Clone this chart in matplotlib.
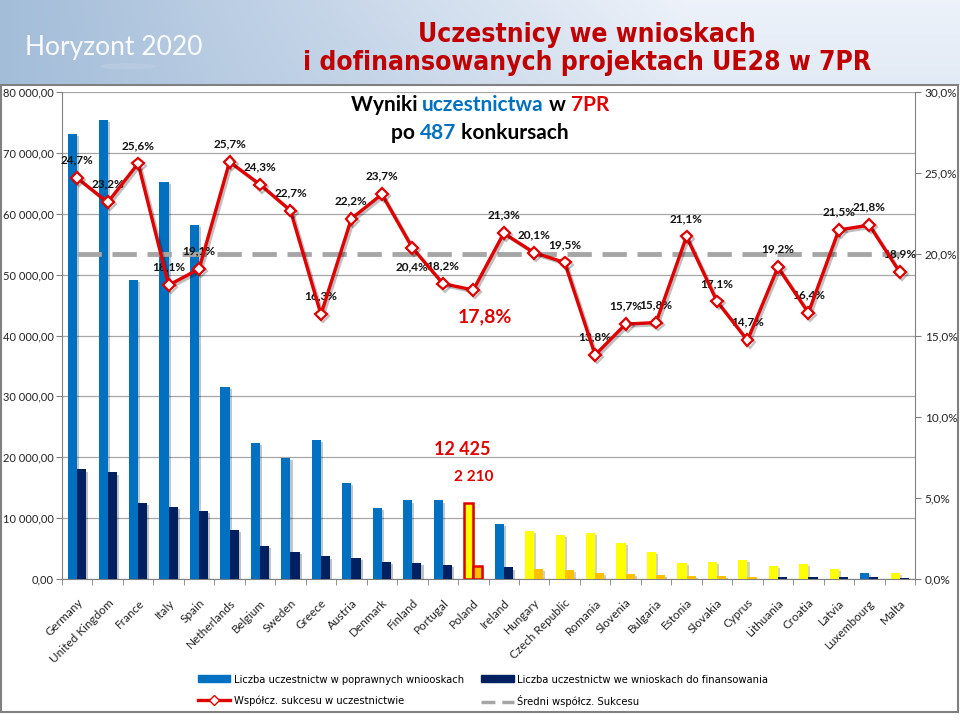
import numpy as np
import matplotlib
matplotlib.use("Agg")
import matplotlib.pyplot as plt
from matplotlib import font_manager
from matplotlib.lines import Line2D
from matplotlib.patches import Patch, Rectangle, Circle
import matplotlib.patheffects as pe

# ---------- data ----------
countries = ["Germany", "United Kingdom", "France", "Italy", "Spain", "Netherlands",
             "Belgium", "Sweden", "Greece", "Austria", "Denmark", "Finland",
             "Portugal", "Poland", "Ireland", "Hungary", "Czech Republic", "Romania",
             "Slovenia", "Bulgaria", "Estonia", "Slovakia", "Cyprus", "Lithuania",
             "Croatia", "Latvia", "Luxembourg", "Malta"]
applied = [73100, 75400, 49100, 65200, 58200, 31600, 22400, 19900, 22800, 15800,
           11600, 12900, 12900, 12425, 9100, 7900, 7200, 7600, 5900, 4400,
           2600, 2850, 3100, 2100, 2450, 1600, 1050, 1000]
funded = [18000, 17500, 12500, 11900, 11200, 8000, 5500, 4500, 3700, 3500,
          2750, 2600, 2300, 2210, 1900, 1600, 1450, 1050, 850, 650,
          550, 500, 400, 400, 380, 300, 250, 200]
success = [24.7, 23.2, 25.6, 18.1, 19.1, 25.7, 24.3, 22.7, 16.3, 22.2,
           23.7, 20.4, 18.2, 17.8, 21.3, 20.1, 19.5, 13.8, 15.7, 15.8,
           21.1, 17.1, 14.7, 19.2, 16.4, 21.5, 21.8, 18.9]
avg_success = 20.0

new_members = ["Hungary", "Czech Republic", "Romania", "Slovenia", "Bulgaria", "Estonia",
               "Slovakia", "Cyprus", "Lithuania", "Croatia", "Latvia", "Malta"]
orange_funded = ["Hungary", "Czech Republic", "Romania", "Slovenia", "Bulgaria",
                 "Estonia", "Slovakia", "Cyprus"]
label_below = ["Finland"]

# ---------- fonts ----------
fonts = font_manager.fontManager.ttflist
names = {f.name for f in fonts}


def find_narrow(bold):
    for f in fonts:
        fn = f.fname.lower()
        if ("narrow" in fn or "condensed" in fn) and ("bold" in fn) == bold \
                and "italic" not in fn and "oblique" not in fn:
            return font_manager.FontProperties(fname=f.fname)
    return None


BODY = "Lato" if "Lato" in names else "DejaVu Sans"
NARROW_FB = "Roboto" if "Roboto" in names else BODY
narrow_b = find_narrow(True)
narrow_r = find_narrow(False)
if narrow_b is None:
    narrow_b = font_manager.FontProperties(family=NARROW_FB, weight="bold")
if narrow_r is None:
    narrow_r = font_manager.FontProperties(family=NARROW_FB)

BLUE = "#0070c0"
NAVY = "#002060"
YELLOW = "#ffff00"
ORANGE = "#ffc000"
RED = "#e00000"

fig = plt.figure(figsize=(9.6, 7.2), dpi=100)

# ---------- header band ----------
hdr = fig.add_axes([0, 1 - 85 / 720, 1, 85 / 720])
gx = np.linspace(0, 1, 300)
gy = np.linspace(0, 1, 40)[:, None]
c0 = np.array([0.64, 0.74, 0.85])
c1 = np.array([0.93, 0.95, 0.98])
t = np.clip(gx * 1.4, 0, 1)[None, :, None] * (0.85 + 0.15 * gy[:, :, None])
img = c0 + (c1 - c0) * t
hdr.imshow(img, aspect="auto", extent=[0, 1, 0, 1], origin="lower")
hdr.set_xlim(0, 1)
hdr.set_ylim(0, 1)
hdr.add_patch(Circle((128 / 960, 0.22), 0.028, transform=hdr.transAxes,
                     color="#b8cbe0", alpha=0.9))
hdr.axis("off")
fig.text(25 / 960, 1 - 47 / 720, "Horyzont 2020", fontsize=19, color="white",
         family=BODY, va="center", ha="left", alpha=0.95)
tp = narrow_b.copy()
tp.set_size(19)
fig.text(587 / 960, 1 - 35 / 720, "Uczestnicy we wnioskach",
         color="#c00000", fontproperties=tp, ha="center", va="center")
fig.text(587 / 960, 1 - 63 / 720, "i dofinansowanych projektach UE28 w 7PR",
         color="#c00000", fontproperties=tp, ha="center", va="center")

# chart frame
fig.patches.append(Rectangle((1 / 960, 8 / 720), 957 / 960, (712 - 85) / 720,
                             transform=fig.transFigure, fill=False,
                             edgecolor="#808080", lw=1.5))

# ---------- main axes ----------
ax = fig.add_axes([62 / 960, 141 / 720, 853 / 960, 487 / 720])
x = np.arange(len(countries))
w = 0.3

tall_c = []
small_c = []
for c in countries:
    if c == "Poland":
        tall_c.append(YELLOW)
        small_c.append(ORANGE)
    elif c in new_members:
        tall_c.append(YELLOW)
        small_c.append(ORANGE if c in orange_funded else NAVY)
    else:
        tall_c.append(BLUE)
        small_c.append(NAVY)

shadow = [pe.SimplePatchShadow(offset=(1.5, -1.5), alpha=0.25), pe.Normal()]
b1 = ax.bar(x - w / 2, applied, w, color=tall_c, zorder=3)
b2 = ax.bar(x + w / 2, funded, w, color=small_c, zorder=3)
for b in list(b1) + list(b2):
    b.set_path_effects(shadow)
pl = countries.index("Poland")
for b in (b1[pl], b2[pl]):
    b.set_edgecolor(RED)
    b.set_linewidth(1.8)

ax.set_xlim(-0.5, len(countries) - 0.5)
ax.set_ylim(0, 80000)
ax.set_yticks(np.arange(0, 80001, 10000))
ax.set_yticklabels([f"{v:,.2f}".replace(",", " ").replace(".", ",")
                    for v in np.arange(0, 80001, 10000)])
ax.yaxis.grid(True, color="#a6a6a6", lw=0.9, zorder=0)
ax.set_axisbelow(True)
ax.set_xticks(x)
ax.set_xticklabels(countries, rotation=45, ha="right", rotation_mode="anchor",
                   fontsize=8.5, family=BODY, color="#222222")
ax.set_xticks(np.arange(-0.5, len(countries)), minor=True)
ax.tick_params(axis="x", which="major", length=0, pad=13)
ax.tick_params(axis="x", which="minor", length=4, color="#808080")
ax.tick_params(axis="y", length=4, pad=2, color="#808080", labelsize=8,
               labelcolor="#222222")
for lab in ax.get_yticklabels():
    lab.set_family(BODY)
for s in ["top", "right"]:
    ax.spines[s].set_visible(False)
for s in ["left", "bottom"]:
    ax.spines[s].set_color("#808080")

ax.text(12.63, 21200, "12 425", color=RED, fontsize=13, weight="bold",
        family=BODY, ha="center", va="center")
ax.text(13.03, 16750, "2 210", color=RED, fontsize=11, weight="bold",
        family=BODY, ha="center", va="center")

# ---------- success rate axis ----------
ax2 = ax.twinx()
ax2.set_ylim(0, 30)
ax2.set_yticks(np.arange(0, 31, 5))
ax2.set_yticklabels([f"{v:.1f}%".replace(".", ",") for v in np.arange(0, 31, 5)])
ax2.tick_params(axis="y", length=4, pad=3, color="#808080", labelsize=8.5,
                labelcolor="#222222")
for lab in ax2.get_yticklabels():
    lab.set_family(BODY)
for s in ["top", "left", "bottom"]:
    ax2.spines[s].set_visible(False)
ax2.spines["right"].set_color("#808080")

ax2.plot([x[0], x[-1]], [avg_success, avg_success], color="#a6a6a6", lw=3.5,
         dashes=(5, 2.2), zorder=2)
ax2.plot(x, success, color=RED, lw=2.4, marker="D", markersize=6,
         markerfacecolor="white", markeredgecolor=RED, markeredgewidth=1.6,
         zorder=4,
         path_effects=[pe.SimpleLineShadow(offset=(1.5, -1.5), alpha=0.25), pe.Normal()])
for xi, c, v in zip(x, countries, success):
    if c == "Poland":
        continue
    dy = -14 if c in label_below else 13
    ax2.annotate(f"{v:.1f}%".replace(".", ","), (xi, v), xytext=(0, dy),
                 textcoords="offset points", ha="center", va="center",
                 fontsize=8.5, weight="bold", family=BODY, color="#111111")
ax2.text(13.39, 16.13, "17,8%", color=RED, fontsize=14, weight="bold",
         family=BODY, ha="center", va="center")


# ---------- inner coloured title ----------
def colored_line(pieces, yc, size):
    fig.canvas.draw()
    r = fig.canvas.get_renderer()
    texts = []
    for s, col in pieces:
        texts.append(fig.text(0, yc, s, color=col, fontsize=size, weight="bold",
                              family=BODY, va="center", ha="left"))
    widths = [tt.get_window_extent(r).width for tt in texts]
    x0 = 480 - sum(widths) / 2
    for tt, wd in zip(texts, widths):
        tt.set_x(x0 / 960)
        x0 += wd


colored_line([("Wyniki ", "black"), ("uczestnictwa", BLUE), (" w ", "black"),
              ("7PR", RED)], 1 - 105 / 720, 15)
colored_line([("po ", "black"), ("487", BLUE), (" konkursach", "black")],
             1 - 133 / 720, 15)

# ---------- legend ----------
handles = [
    Patch(color=BLUE, label="Liczba uczestnictw w poprawnych wniooskach"),
    Line2D([], [], color=RED, lw=2.4, marker="D", markersize=5,
           markerfacecolor="white", markeredgecolor=RED,
           label="Współcz. sukcesu w uczestnictwie"),
    Patch(color=NAVY, label="Liczba uczestnictw we wnioskach do finansowania"),
    Line2D([], [], color="#a6a6a6", lw=2.5, dashes=(4, 2),
           label="Średni współcz. Sukcesu"),
]
lp = narrow_r.copy()
lp.set_size(8)
fig.legend(handles=handles, ncol=2, loc="center",
           bbox_to_anchor=(483 / 960, 1 - 691 / 720), frameon=False,
           prop=lp, handlelength=2.9, handleheight=0.6, labelspacing=0.95,
           columnspacing=1.6, handletextpad=0.3)

fig.savefig("out.png", dpi=100)
